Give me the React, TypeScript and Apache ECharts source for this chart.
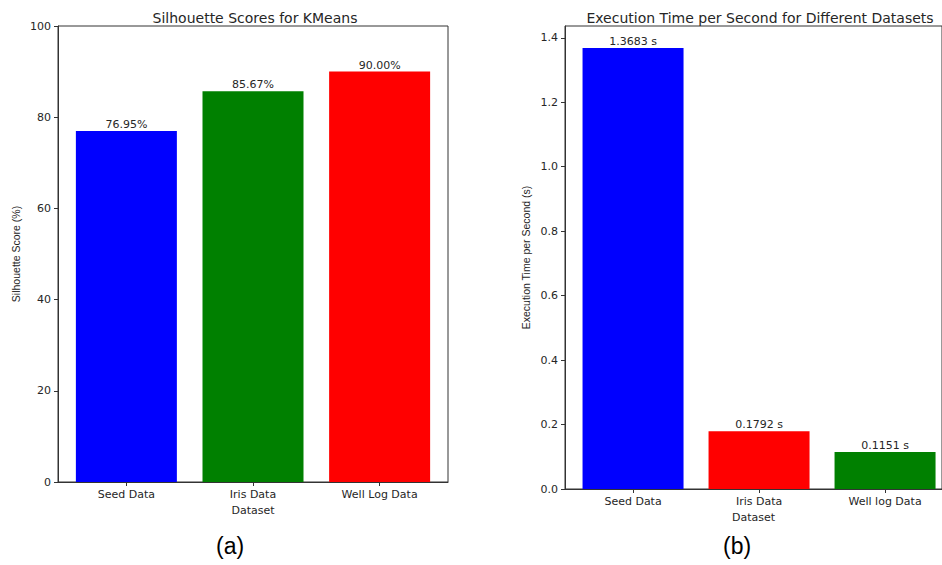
import React, { useEffect, useRef } from "react";
import * as echarts from "echarts";

const categoriesA = ["Seed Data", "Iris Data", "Well Log Data"];
const scoresA = [76.95, 85.67, 90.0];
const colorsA = ["#0000ff", "#008000", "#ff0000"];
const yTicksA = [0, 20, 40, 60, 80, 100];

const categoriesB = ["Seed Data", "Iris Data", "Well log Data"];
const timesB = [1.3683, 0.1792, 0.1151];
const colorsB = ["#0000ff", "#ff0000", "#008000"];
const yTicksB = [0, 0.2, 0.4, 0.6, 0.8, 1.0, 1.2, 1.4];

const FONT = "DejaVu Sans";
const TXT = "#262626";

export default function App() {
  const ref = useRef<HTMLDivElement>(null);
  useEffect(() => {
    if (!ref.current) return;
    const chart = echarts.init(ref.current, null, { renderer: "svg" });
    const tickIdx = [0, 1, 2];
    const xAxisBase = (cats: string[], gridIndex: number, nameGap: number, max: number) => ({
      type: "value",
      gridIndex,
      min: -0.54,
      max,
      name: "Dataset",
      nameLocation: "middle",
      nameGap,
      nameTextStyle: { fontFamily: FONT, fontSize: 11, color: TXT },
      axisLine: { show: true, onZero: false, lineStyle: { color: "#333", width: 1 } },
      axisTick: { show: true, customValues: tickIdx, length: 4, lineStyle: { color: "#333" } },
      axisLabel: {
        customValues: tickIdx,
        formatter: (v: number) => cats[Math.round(v)] ?? "",
        fontFamily: FONT,
        fontSize: 11,
        color: TXT,
        margin: 7,
      },
      splitLine: { show: false },
    });
    chart.setOption({
      animation: false,
      title: [
        {
          text: "Silhouette Scores for KMeans",
          left: 250,
          top: 6,
          textAlign: "center",
          textStyle: { fontFamily: FONT, fontSize: 14, fontWeight: "normal", color: TXT },
        },
        {
          text: "Execution Time per Second for Different Datasets",
          left: 755,
          top: 6,
          textAlign: "center",
          textStyle: { fontFamily: FONT, fontSize: 14, fontWeight: "normal", color: TXT },
        },
      ],
      grid: [
        { left: 58, top: 26, width: 390, height: 456, show: true, borderColor: "#333", borderWidth: 1 },
        { left: 565, top: 26, width: 380, height: 463, show: true, borderColor: "#333", borderWidth: 1 },
      ],
      xAxis: [xAxisBase(categoriesA, 0, 20, 2.54), xAxisBase(categoriesB, 1, 21, 2.452)],
      yAxis: [
        {
          type: "value",
          gridIndex: 0,
          min: 0,
          max: 100,
          name: "Silhouette Score (%)",
          nameLocation: "middle",
          nameGap: 37,
          nameTextStyle: { fontFamily: "Liberation Sans", fontSize: 10.5, color: TXT },
          axisLine: { show: true, onZero: false, lineStyle: { color: "#333" } },
          axisTick: { show: true, customValues: yTicksA, length: 4, lineStyle: { color: "#333" } },
          axisLabel: { customValues: yTicksA, fontFamily: FONT, fontSize: 11, color: TXT, margin: 7 },
          splitLine: { show: false },
        },
        {
          type: "value",
          gridIndex: 1,
          min: 0,
          max: 1.4367,
          name: "Execution Time per Second (s)",
          nameLocation: "middle",
          nameGap: 34,
          nameTextStyle: { fontFamily: "Liberation Sans", fontSize: 10.5, color: TXT },
          axisLine: { show: true, onZero: false, lineStyle: { color: "#333" } },
          axisTick: { show: true, customValues: yTicksB, length: 4, lineStyle: { color: "#333" } },
          axisLabel: {
            customValues: yTicksB,
            formatter: (v: number) => v.toFixed(1),
            fontFamily: FONT,
            fontSize: 11,
            color: TXT,
            margin: 7,
          },
          splitLine: { show: false },
        },
      ],
      series: [
        {
          type: "bar",
          xAxisIndex: 0,
          yAxisIndex: 0,
          barWidth: 101,
          data: scoresA.map((v, i) => ({ value: [i, v], itemStyle: { color: colorsA[i] } })),
          label: {
            show: true,
            position: "top",
            distance: 1,
            formatter: (p: any) => p.value[1].toFixed(2) + "%",
            fontFamily: FONT,
            fontSize: 11,
            color: TXT,
          },
        },
        {
          type: "bar",
          xAxisIndex: 1,
          yAxisIndex: 1,
          barWidth: 101,
          data: timesB.map((v, i) => ({ value: [i, v], itemStyle: { color: colorsB[i] } })),
          label: {
            show: true,
            position: "top",
            distance: 1,
            formatter: (p: any) => p.value[1].toFixed(4) + " s",
            fontFamily: FONT,
            fontSize: 11,
            color: TXT,
          },
        },
      ],
      graphic: [
        {
          type: "text",
          left: 230 - 14,
          top: 534,
          style: { text: "(a)", font: "23px 'Liberation Sans'", fill: "#000" },
        },
        {
          type: "text",
          left: 737 - 14,
          top: 534,
          style: { text: "(b)", font: "23px 'Liberation Sans'", fill: "#000" },
        },
      ],
    });
    return () => chart.dispose();
  }, []);
  return (
    <div
      ref={ref}
      style={{ position: "fixed", left: 0, top: 0, width: 942, height: 565, background: "#fff" }}
    />
  );
}
